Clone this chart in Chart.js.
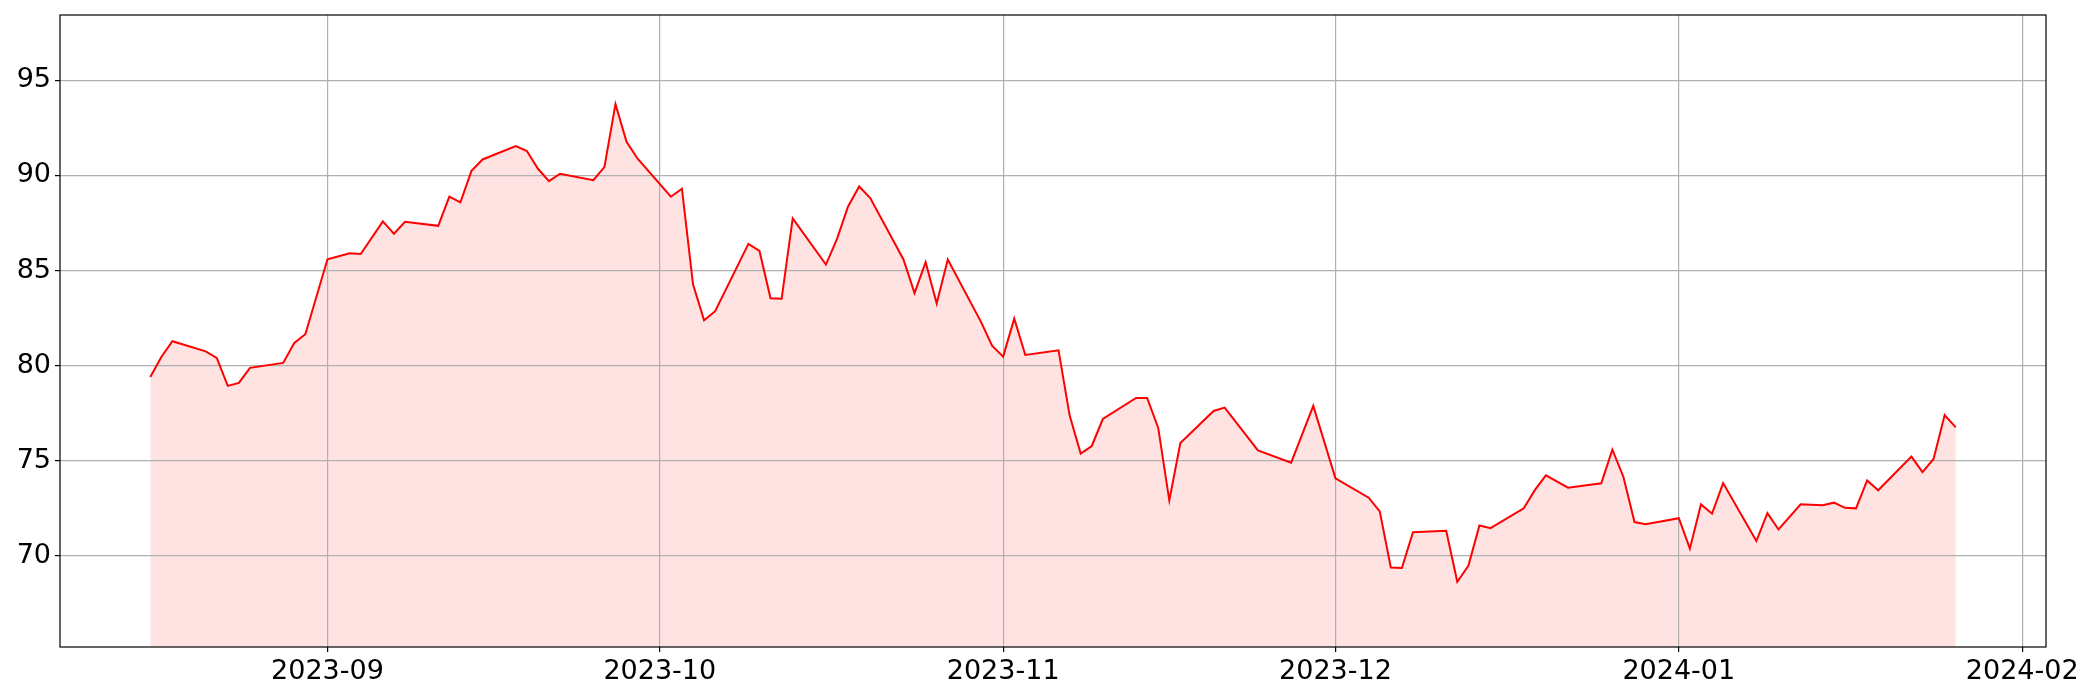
<!DOCTYPE html>
<html lang="en">
<head>
<meta charset="UTF-8">
<title>Price chart</title>
<script src="https://cdn.jsdelivr.net/npm/chart.js"></script>
<style>
    html, body { margin: 0; padding: 0; background: #fff; }
    #wrap { width: 2100px; height: 700px; }
</style>
</head>
<body>
<div id="wrap"><canvas id="priceChart" width="2100" height="700"></canvas></div>
<script>
    // dates (vertices of the line)
    const dates = [
        '2023-08-16', '2023-08-17', '2023-08-18', '2023-08-21', '2023-08-22', '2023-08-23', '2023-08-24', '2023-08-25',
        '2023-08-28', '2023-08-29', '2023-08-30', '2023-09-01', '2023-09-03', '2023-09-04', '2023-09-06', '2023-09-07',
        '2023-09-08', '2023-09-11', '2023-09-12', '2023-09-13', '2023-09-14', '2023-09-15', '2023-09-18', '2023-09-19',
        '2023-09-20', '2023-09-21', '2023-09-22', '2023-09-25', '2023-09-26', '2023-09-27', '2023-09-28', '2023-09-29',
        '2023-10-02', '2023-10-03', '2023-10-04', '2023-10-05', '2023-10-06', '2023-10-09', '2023-10-10', '2023-10-11',
        '2023-10-12', '2023-10-13', '2023-10-16', '2023-10-17', '2023-10-18', '2023-10-19', '2023-10-20', '2023-10-23',
        '2023-10-24', '2023-10-25', '2023-10-26', '2023-10-27', '2023-10-30', '2023-10-31', '2023-11-01', '2023-11-02',
        '2023-11-03', '2023-11-06', '2023-11-07', '2023-11-08', '2023-11-09', '2023-11-10', '2023-11-13', '2023-11-14',
        '2023-11-15', '2023-11-16', '2023-11-17', '2023-11-20', '2023-11-21', '2023-11-24', '2023-11-27', '2023-11-29',
        '2023-12-01', '2023-12-04', '2023-12-05', '2023-12-06', '2023-12-07', '2023-12-08', '2023-12-11', '2023-12-12',
        '2023-12-13', '2023-12-14', '2023-12-15', '2023-12-18', '2023-12-19', '2023-12-20', '2023-12-22', '2023-12-25',
        '2023-12-26', '2023-12-27', '2023-12-28', '2023-12-29', '2024-01-01', '2024-01-02', '2024-01-03', '2024-01-04',
        '2024-01-05', '2024-01-08', '2024-01-09', '2024-01-10', '2024-01-12', '2024-01-14', '2024-01-15', '2024-01-16',
        '2024-01-17', '2024-01-18', '2024-01-19', '2024-01-22', '2024-01-23', '2024-01-24', '2024-01-25', '2024-01-26'
    ];

    const values = [
        79.40, 80.45, 81.28, 80.75, 80.40, 78.93, 79.09, 79.88,
        80.14, 81.19, 81.65, 85.59, 85.91, 85.87, 87.58, 86.93,
        87.56, 87.35, 88.88, 88.58, 90.24, 90.84, 91.54, 91.28,
        90.35, 89.70, 90.09, 89.75, 90.44, 93.75, 91.77, 90.88,
        88.88, 89.30, 84.28, 82.38, 82.86, 86.40, 86.03, 83.54,
        83.51, 87.74, 85.31, 86.66, 88.37, 89.42, 88.81, 85.58,
        83.81, 85.44, 83.26, 85.58, 82.30, 81.05, 80.47, 82.47,
        80.56, 80.80, 77.38, 75.37, 75.77, 77.19, 78.30, 78.30,
        76.72, 72.91, 75.93, 77.61, 77.79, 75.54, 74.89, 77.88,
        74.07, 73.05, 72.33, 69.38, 69.35, 71.24, 71.31, 68.63,
        69.47, 71.59, 71.45, 72.49, 73.45, 74.23, 73.58, 73.81,
        75.58, 74.14, 71.77, 71.66, 71.97, 70.37, 72.70, 72.21,
        73.82, 70.77, 72.24, 71.38, 72.70, 72.66, 72.79, 72.52,
        72.49, 73.96, 73.44, 75.21, 74.40, 75.09, 77.40, 76.75
    ];

    const monthTicks = ['2023-09-01', '2023-10-01', '2023-11-01', '2023-12-01', '2024-01-01', '2024-02-01'];
    const yTicks = [70, 75, 80, 85, 90, 95];

    // day number since epoch, so the x axis can be a plain linear scale
    function dayNum(s) {
        const [y, m, d] = s.split('-').map(Number);
        return Date.UTC(y, m - 1, d) / 86400000;
    }

    const xs = dates.map(dayNum);
    const span = xs[xs.length - 1] - xs[0];
    const xMin = xs[0] - 0.05 * span;
    const xMax = xs[xs.length - 1] + 0.05 * span;
    const yMin = Math.min(...values) * 0.95;
    const yMax = Math.max(...values) * 1.05;

    // top and right spines, like the matplotlib frame
    const frame = {
        id: 'frame',
        afterDraw(chart) {
            const { ctx, chartArea: a } = chart;
            ctx.save();
            ctx.strokeStyle = '#000';
            ctx.lineWidth = 1.2;
            ctx.strokeRect(a.left, a.top, a.right - a.left, a.bottom - a.top);
            ctx.restore();
        }
    };

    Chart.defaults.font.family = 'DejaVu Sans';
    Chart.defaults.font.size = 27;
    Chart.defaults.color = '#000';

    new Chart(document.getElementById('priceChart'), {
        type: 'line',
        data: {
            datasets: [{
                data: xs.map((x, i) => ({ x: x, y: values[i] })),
                borderColor: 'red',
                borderWidth: 2,
                backgroundColor: 'rgba(255, 0, 0, 0.11)',
                fill: 'start',
                pointRadius: 0,
                tension: 0
            }]
        },
        options: {
            responsive: false,
            animation: false,
            devicePixelRatio: 1,
            layout: { padding: { left: 0, top: 15, right: 54, bottom: 0 } },
            plugins: {
                legend: { display: false },
                tooltip: { enabled: false },
                filler: { drawTime: 'beforeDraw' }   // grid sits on top of the fill
            },
            scales: {
                x: {
                    type: 'linear',
                    min: xMin,
                    max: xMax,
                    afterBuildTicks: scale => {
                        scale.ticks = monthTicks.map(s => ({ value: dayNum(s) }));
                    },
                    afterFit: scale => { scale.height = 53; },
                    ticks: {
                        padding: 4,
                        maxRotation: 0,
                        callback: v => new Date(v * 86400000).toISOString().slice(0, 7)
                    },
                    grid: { color: '#b0b0b0', lineWidth: 1.2, tickColor: '#000', tickLength: 5 },
                    border: { display: false }
                },
                y: {
                    min: yMin,
                    max: yMax,
                    afterBuildTicks: scale => {
                        scale.ticks = yTicks.map(v => ({ value: v }));
                    },
                    afterFit: scale => {
                        scale.width = 60;
                        scale.paddingTop = 0;
                        scale.paddingBottom = 0;
                    },
                    ticks: { padding: 4 },
                    grid: { color: '#b0b0b0', lineWidth: 1.2, tickColor: '#000', tickLength: 5 },
                    border: { display: false }
                }
            }
        },
        plugins: [frame]
    });
</script>
</body>
</html>
